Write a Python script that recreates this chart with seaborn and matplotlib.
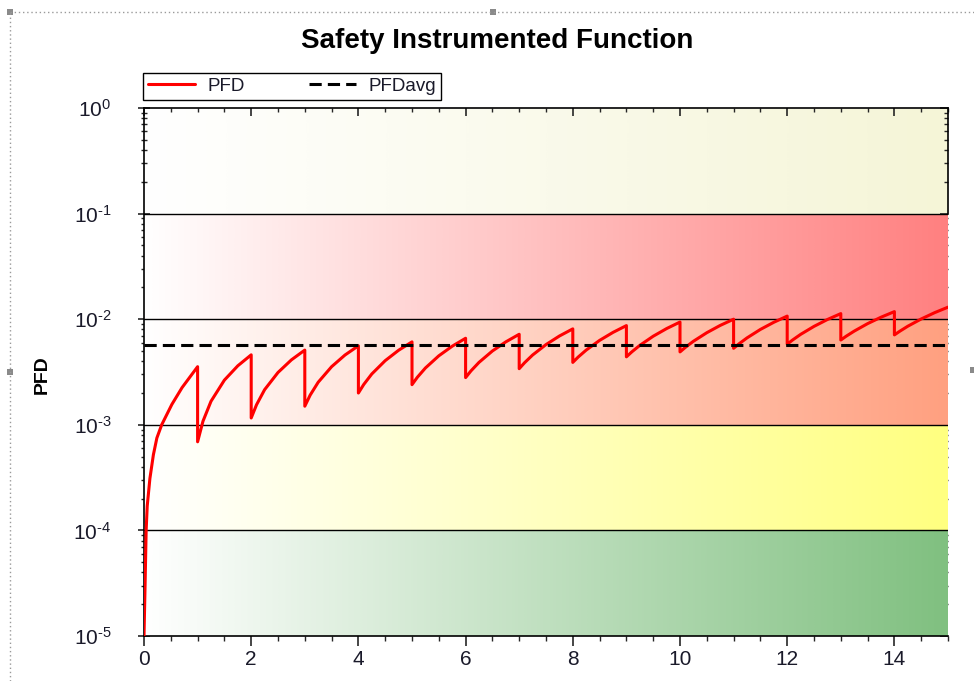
import numpy as np
import pandas as pd
import matplotlib
matplotlib.use("Agg")
import matplotlib.pyplot as plt
import seaborn as sns
from matplotlib.lines import Line2D
from matplotlib.patches import Rectangle
from matplotlib.ticker import (MultipleLocator, LogLocator, NullFormatter,
                               FixedLocator, FuncFormatter)

# ---------------- data ----------------
title_text = "Safety Instrumented Function"
y_label = "PFD"
series_labels = ["PFD", "PFDavg"]
x_tick_values = [0, 2, 4, 6, 8, 10, 12, 14]

pfd_time = [
    0.0, 0.02, 0.04, 0.06, 0.11, 0.175, 0.24, 0.33, 0.52, 0.71, 1.0,
    1.0, 1.1, 1.25, 1.5, 1.75, 2.0,
    2.0, 2.1, 2.25, 2.5, 2.75, 3.0,
    3.0, 3.1, 3.25, 3.5, 3.75, 4.0,
    4.0, 4.1, 4.25, 4.5, 4.75, 5.0,
    5.0, 5.1, 5.25, 5.5, 5.75, 6.0,
    6.0, 6.1, 6.25, 6.5, 6.75, 7.0,
    7.0, 7.1, 7.25, 7.5, 7.75, 8.0,
    8.0, 8.1, 8.25, 8.5, 8.75, 9.0,
    9.0, 9.1, 9.25, 9.5, 9.75, 10.0,
    10.0, 10.1, 10.25, 10.5, 10.75, 11.0,
    11.0, 11.1, 11.25, 11.5, 11.75, 12.0,
    12.0, 12.1, 12.25, 12.5, 12.75, 13.0,
    13.0, 13.1, 13.25, 13.5, 13.75, 14.0,
    14.0, 14.1, 14.25, 14.5, 14.75, 15.0,
]
pfd_value = [
    1.0e-5, 3.0e-5, 1.0e-4, 1.7e-4, 3.1e-4, 5.2e-4, 7.5e-4, 1.0e-3, 1.56e-3, 2.25e-3, 3.55e-3,
    6.9e-4, 1.08e-3, 1.67e-3, 2.65e-3, 3.62e-3, 4.6e-3,
    1.16e-3, 1.55e-3, 2.15e-3, 3.13e-3, 4.12e-3, 5.1e-3,
    1.5e-3, 1.91e-3, 2.53e-3, 3.55e-3, 4.58e-3, 5.6e-3,
    2.0e-3, 2.41e-3, 3.03e-3, 4.05e-3, 5.08e-3, 6.1e-3,
    2.4e-3, 2.82e-3, 3.45e-3, 4.5e-3, 5.55e-3, 6.6e-3,
    2.8e-3, 3.24e-3, 3.9e-3, 5.0e-3, 6.1e-3, 7.2e-3,
    3.4e-3, 3.87e-3, 4.58e-3, 5.75e-3, 6.93e-3, 8.1e-3,
    3.9e-3, 4.38e-3, 5.1e-3, 6.3e-3, 7.5e-3, 8.7e-3,
    4.4e-3, 4.9e-3, 5.65e-3, 6.9e-3, 8.15e-3, 9.4e-3,
    4.9e-3, 5.41e-3, 6.18e-3, 7.45e-3, 8.73e-3, 1.0e-2,
    5.3e-3, 5.84e-3, 6.65e-3, 8.0e-3, 9.35e-3, 1.07e-2,
    5.8e-3, 6.35e-3, 7.18e-3, 8.55e-3, 9.93e-3, 1.13e-2,
    6.35e-3, 6.9e-3, 7.71e-3, 9.08e-3, 1.044e-2, 1.18e-2,
    7.1e-3, 7.69e-3, 8.58e-3, 1.005e-2, 1.153e-2, 1.3e-2,
]
avg_time = [0.0, 15.0]
avg_value = [5.7e-3, 5.7e-3]

# risk bands (lower edge, upper edge, colour at the right end)
band_low = [1e-5, 1e-4, 1e-3, 1e-2, 1e-1]
band_high = [1e-4, 1e-3, 1e-2, 1e-1, 1e0]
band_color = ["#80c080", "#ffff80", "#ffa080", "#ff8080", "#f5f5d7"]
band_lines = [1e-4, 1e-3, 1e-2, 1e-1]

# ---------------- style ----------------
sns.set_style("white")
plt.rcParams["font.family"] = ["Liberation Sans", "DejaVu Sans"]
plt.rcParams["mathtext.fontset"] = "custom"
plt.rcParams["mathtext.rm"] = "Liberation Sans"
plt.rcParams["mathtext.it"] = "Liberation Sans:italic"
plt.rcParams["mathtext.bf"] = "Liberation Sans:bold"

W, H = 974, 681
fig = plt.figure(figsize=(W / 100, H / 100), dpi=100)
fig.patch.set_facecolor("white")
ax = fig.add_axes([144 / W, 1 - 636 / H, 804 / W, 528 / H])
ax.set_yscale("log")

# gradient bands
frac = np.linspace(0.0, 1.0, 256)[:, None]
for lo, hi, col in zip(band_low, band_high, band_color):
    rgb = np.array(matplotlib.colors.to_rgb(col))
    grad = (1 - frac) * np.ones(3) + frac * rgb
    z = 0 if hi == 1e0 else 1.6
    ax.imshow(grad[None, :, :], extent=(0, 15, lo, hi), aspect="auto",
              interpolation="bilinear", origin="lower", zorder=z)
for yv in band_lines:
    ax.axhline(yv, color="black", lw=1.0, zorder=1.7)

df_pfd = pd.DataFrame({"t": pfd_time, "pfd": pfd_value})
df_avg = pd.DataFrame({"t": avg_time, "pfd": avg_value})
sns.lineplot(data=df_pfd, x="t", y="pfd", ax=ax, color="red", lw=2.2,
             sort=False, estimator=None, zorder=3, legend=False)
sns.lineplot(data=df_avg, x="t", y="pfd", ax=ax, color="black", lw=2.2,
             dashes=False, estimator=None, zorder=3.1, legend=False)
ax.lines[-1].set_dashes((4, 2))

ax.set_xlim(0, 15)
ax.set_ylim(1e-5, 1e0)
ax.set_xlabel("")
ax.set_ylabel("")

# spines
for s in ["left", "bottom", "top", "right"]:
    ax.spines[s].set_visible(True)
    ax.spines[s].set_color("black")
    ax.spines[s].set_linewidth(1.2)
ax.spines["right"].set_bounds(1e-1, 1e0)


def log_label(v, pos):
    e = int(round(np.log10(v)))
    s = str(e).replace("-", r"\text{-}")
    return r"$\mathdefault{10^{%s}}$" % s


# x ticks
ax.xaxis.set_major_locator(FixedLocator(x_tick_values))
ax.xaxis.set_minor_locator(MultipleLocator(0.5))
ax.tick_params(axis="x", which="major", direction="out", length=7, width=1.2,
               labelsize=15, pad=3, top=False, bottom=True, labelcolor="#1a1a2a")
ax.tick_params(axis="x", which="minor", direction="out", length=3.5, width=1.0,
               top=False, bottom=True)

# y ticks
ax.yaxis.set_major_locator(LogLocator(base=10, numticks=10))
ax.yaxis.set_major_formatter(FuncFormatter(log_label))
ax.yaxis.set_minor_locator(LogLocator(base=10, subs=np.arange(2, 10), numticks=20))
ax.yaxis.set_minor_formatter(NullFormatter())
ax.tick_params(axis="y", which="major", direction="inout", length=9, width=1.2,
               labelsize=15, pad=19, left=True, right=False, labelcolor="#1a1a2a")
ax.tick_params(axis="y", which="minor", direction="inout", length=5, width=1.0,
               left=True, right=False)

# inward ticks on the top and right frame
secx = ax.secondary_xaxis("top")
secx.xaxis.set_major_locator(FixedLocator(x_tick_values))
secx.xaxis.set_minor_locator(MultipleLocator(0.5))
secx.tick_params(axis="x", which="major", direction="in", length=6, width=1.2, labeltop=False)
secx.tick_params(axis="x", which="minor", direction="in", length=3, width=1.0)
for s in secx.spines.values():
    s.set_visible(False)
secx.set_zorder(1)

secy = ax.secondary_yaxis("right")
secy.yaxis.set_major_locator(LogLocator(base=10, numticks=10))
secy.yaxis.set_minor_locator(LogLocator(base=10, subs=np.arange(2, 10), numticks=20))
secy.yaxis.set_minor_formatter(NullFormatter())
secy.tick_params(axis="y", which="major", direction="in", length=6, width=1.2, labelright=False)
secy.tick_params(axis="y", which="minor", direction="in", length=3, width=1.0)
for s in secy.spines.values():
    s.set_visible(False)
secy.set_zorder(1)

# title / label
fig.text(497 / W, 1 - 41 / H, title_text, ha="center", va="center",
         fontsize=20, fontweight="bold", color="black")
fig.text(42 / W, 1 - 375 / H, y_label, ha="center", va="center", rotation=90,
         fontsize=14, fontweight="bold", color="black")

# legend
handles = [Line2D([], [], color="red", lw=2.2),
           Line2D([], [], color="black", lw=2.2, dashes=(4, 2))]
leg = ax.legend(handles, series_labels, loc="upper left", ncol=2, mode="expand",
                bbox_to_anchor=(143 / W, 1 - 97 / H, 298 / W, 24 / H),
                bbox_transform=fig.transFigure,
                fontsize=13.5, handlelength=2.5, handletextpad=0.7, columnspacing=3.0,
                borderpad=0.25, borderaxespad=0, frameon=True, fancybox=False,
                framealpha=1, edgecolor="black", labelcolor="#1a1a2a")
leg.get_frame().set_linewidth(1.0)

# selection frame decorations
fig.add_artist(Line2D([10 / W, 1], [1 - 12 / H, 1 - 12 / H], transform=fig.transFigure,
                      color="#9a9a9a", lw=1, ls=(0, (1, 2))))
fig.add_artist(Line2D([10 / W, 10 / W], [0, 1 - 12 / H], transform=fig.transFigure,
                      color="#9a9a9a", lw=1, ls=(0, (1, 2))))
for hx, hy in [(10, 12), (493, 12), (10, 372), (973, 370)]:
    fig.add_artist(Rectangle(((hx - 3) / W, 1 - (hy + 3) / H), 6 / W, 6 / H,
                             transform=fig.transFigure, color="#8a8a8a", lw=0))

fig.savefig("out.png", dpi=100)
